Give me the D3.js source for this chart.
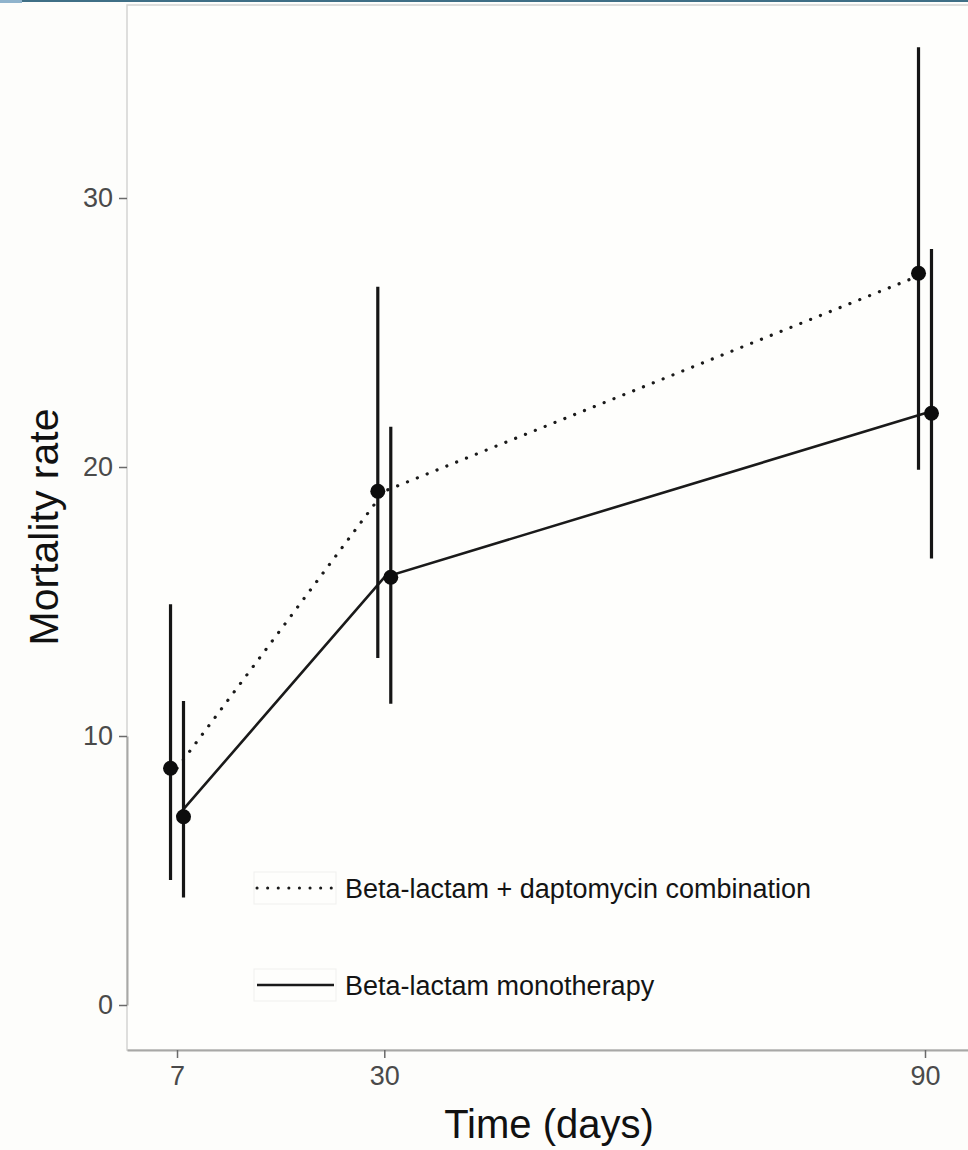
<!DOCTYPE html>
<html>
<head>
<meta charset="utf-8">
<script src="https://cdnjs.cloudflare.com/ajax/libs/d3/7.8.5/d3.min.js"></script>
<style>
  body { margin: 0; background: #fdfdfb; }
  svg { display: block; font-family: "Liberation Sans", Arial, sans-serif; }
</style>
</head>
<body>
<svg id="chart" width="968" height="1150"></svg>
<script>
// data
let days = [7, 30, 90];
let seriesNames = ["Beta-lactam + daptomycin combination", "Beta-lactam monotherapy"];
let comboMean = [8.8, 19.1, 27.2];
let comboLow  = [4.65, 12.9, 19.9];
let comboHigh = [14.9, 26.7, 35.6];
let monoMean  = [7.0, 15.9, 22.0];
let monoLow   = [4.0, 11.2, 16.6];
let monoHigh  = [11.3, 21.5, 28.1];
let yTicks = [0, 10, 20, 30];

let chartW = 968, chartH = 1150;
let padLeft = 127, padTop = 5, padBottom = 1050, padRight = 968;

let svg = d3.select("#chart");

// blue strip on the very top (scan artefact of the source page)
svg.append("rect").attr("x", 0).attr("y", 0).attr("width", chartW).attr("height", 2).attr("fill", "#3f6f86");
svg.append("rect").attr("x", 0).attr("y", 0).attr("width", 22).attr("height", 3).attr("fill", "#8fb3cc");

let x = d3.scaleLinear()
	.domain([1.45, 90 + (padRight - 925) / 9.012])
	.range([padLeft, padRight]);

let y = d3.scaleLinear()
	.domain([0, 10])
	.range([1005, 736]);

let dodge = 0.72;

let series = [
	{ name: seriesNames[0], mean: comboMean, lo: comboLow, hi: comboHigh, off: -dodge, dash: "0.1,10.5" },
	{ name: seriesNames[1], mean: monoMean, lo: monoLow, hi: monoHigh, off: dodge, dash: null }
];

// panel frame
svg.append("rect")
	.attr("x", padLeft).attr("y", padTop)
	.attr("width", padRight - padLeft + 10).attr("height", padBottom - padTop)
	.attr("fill", "#fefefc")
	.attr("stroke", "#d4d4d2")
	.attr("stroke-width", 1.5);

// axes
let yAxis = svg.append("g")
	.attr("transform", "translate(" + padLeft + ",0)")
	.call(d3.axisLeft(y).tickValues(yTicks).tickSize(8).tickSizeOuter(0).tickPadding(6));

let xAxis = svg.append("g")
	.attr("transform", "translate(0," + padBottom + ")")
	.call(d3.axisBottom(x).tickValues(days).tickSize(8).tickSizeOuter(0).tickPadding(8));

[yAxis, xAxis].forEach(function(ax) {
	ax.select(".domain").attr("stroke", "#a8a8a6").attr("stroke-width", 2);
	ax.selectAll(".tick line").attr("stroke", "#6a6a6a").attr("stroke-width", 1.5);
	ax.selectAll(".tick text")
		.attr("fill", "#4a4a4a")
		.style("font-size", "27px")
		.style("font-family", "'Liberation Sans', Arial, sans-serif");
});

// lines (not dodged)
let line = d3.line()
	.x(function(d) { return x(d.day); })
	.y(function(d) { return y(d.v); });

series.forEach(function(s) {
	let pts = days.map(function(d, i) { return { day: d, v: s.mean[i] }; });
	let path = svg.append("path")
		.datum(pts)
		.attr("d", line)
		.attr("fill", "none")
		.attr("stroke", "#1a1a1a")
		.attr("stroke-width", s.dash ? 3.2 : 2.6);
	if (s.dash) path.attr("stroke-dasharray", s.dash).attr("stroke-linecap", "round");
});

// error bars + points (dodged)
series.forEach(function(s) {
	let g = svg.append("g");
	g.selectAll("line")
		.data(days)
		.enter().append("line")
		.attr("x1", function(d) { return x(d + s.off); })
		.attr("x2", function(d) { return x(d + s.off); })
		.attr("y1", function(d, i) { return y(s.lo[i]); })
		.attr("y2", function(d, i) { return y(s.hi[i]); })
		.attr("stroke", "#151515")
		.attr("stroke-width", 3.2);
	g.selectAll("circle")
		.data(days)
		.enter().append("circle")
		.attr("cx", function(d) { return x(d + s.off); })
		.attr("cy", function(d, i) { return y(s.mean[i]); })
		.attr("r", 7.5)
		.attr("fill", "#0d0d0d");
});

// legend
let legendY = [888, 985];
series.forEach(function(s, i) {
	let ly = legendY[i];
	svg.append("rect")
		.attr("x", 254).attr("y", ly - 16)
		.attr("width", 82).attr("height", 32)
		.attr("fill", "none")
		.attr("stroke", "#f0f0ee")
		.attr("stroke-width", 1);
	let k = svg.append("line")
		.attr("x1", 257).attr("x2", 334)
		.attr("y1", ly).attr("y2", ly)
		.attr("stroke", "#1a1a1a")
		.attr("stroke-width", s.dash ? 3 : 2.6);
	if (s.dash) k.attr("stroke-dasharray", s.dash).attr("stroke-linecap", "round");
	svg.append("text")
		.attr("x", 345).attr("y", ly)
		.attr("dy", "0.36em")
		.style("font-size", "27px")
		.attr("fill", "#141414")
		.text(s.name);
});

// axis titles
svg.append("text")
	.attr("x", 549)
	.attr("y", 1138)
	.style("text-anchor", "middle")
	.style("font-size", "40px")
	.attr("fill", "#111")
	.text("Time (days)");

svg.append("text")
	.attr("transform", "translate(58,527) rotate(-90)")
	.style("text-anchor", "middle")
	.style("font-size", "41px")
	.attr("fill", "#111")
	.text("Mortality rate");
</script>
</body>
</html>
